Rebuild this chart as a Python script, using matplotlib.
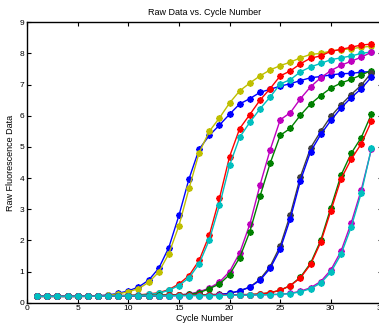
import matplotlib
matplotlib.use("Agg")
import matplotlib.pyplot as plt
import numpy as np

# cycle numbers
cycles = np.arange(1, 35)

# raw fluorescence, one list per well
blue_a = [0.2, 0.2, 0.2, 0.2, 0.2, 0.21, 0.22, 0.25, 0.3, 0.38, 0.5, 0.72, 1.1, 1.77, 2.8, 3.98, 4.93,
          5.37, 5.7, 6.05, 6.38, 6.55, 6.75, 6.85, 6.95, 7.03, 7.13, 7.22, 7.26, 7.31, 7.35, 7.36, 7.4, 7.42]
yellow_a = [0.2, 0.2, 0.2, 0.2, 0.2, 0.21, 0.22, 0.24, 0.28, 0.35, 0.45, 0.65, 0.98, 1.57, 2.47, 3.67, 4.82,
            5.5, 5.93, 6.41, 6.8, 7.05, 7.28, 7.47, 7.61, 7.72, 7.86, 7.97, 8.0, 8.08, 8.12, 8.15, 8.2, 8.23]
red_a = [0.2, 0.2, 0.2, 0.2, 0.2, 0.2, 0.21, 0.21, 0.22, 0.23, 0.25, 0.28, 0.32, 0.42, 0.6, 0.87, 1.36,
         2.17, 3.35, 4.69, 5.59, 6.04, 6.5, 6.87, 7.28, 7.44, 7.67, 7.85, 7.92, 8.07, 8.13, 8.2, 8.27, 8.3]
cyan_a = [0.2, 0.2, 0.2, 0.2, 0.2, 0.2, 0.21, 0.21, 0.22, 0.23, 0.24, 0.27, 0.3, 0.4, 0.55, 0.8, 1.25,
          2.02, 3.12, 4.41, 5.31, 5.79, 6.22, 6.6, 7.02, 7.16, 7.41, 7.57, 7.68, 7.8, 7.86, 7.92, 8.0, 8.05]
magenta_a = [0.21, 0.21, 0.21, 0.21, 0.21, 0.21, 0.21, 0.22, 0.22, 0.22, 0.22, 0.23, 0.23, 0.24, 0.25, 0.28, 0.35,
             0.47, 0.66, 1.0, 1.6, 2.52, 3.77, 4.9, 5.87, 6.1, 6.55, 6.93, 7.22, 7.45, 7.62, 7.75, 7.88, 8.04]
green_a = [0.21, 0.21, 0.21, 0.21, 0.21, 0.21, 0.21, 0.22, 0.22, 0.22, 0.22, 0.23, 0.23, 0.24, 0.25, 0.27, 0.32,
           0.45, 0.6, 0.9, 1.45, 2.28, 3.41, 4.47, 5.37, 5.6, 6.02, 6.38, 6.65, 6.89, 7.05, 7.17, 7.31, 7.45]
gray_b = [0.22, 0.22, 0.22, 0.22, 0.22, 0.22, 0.22, 0.22, 0.22, 0.22, 0.23, 0.23, 0.23, 0.23, 0.24, 0.24, 0.25,
          0.26, 0.27, 0.3, 0.38, 0.5, 0.75, 1.16, 1.82, 2.83, 4.05, 4.97, 5.5, 5.98, 6.35, 6.68, 6.98, 7.38]
blue_b = [0.21, 0.21, 0.21, 0.21, 0.21, 0.21, 0.21, 0.21, 0.22, 0.22, 0.22, 0.22, 0.23, 0.23, 0.23, 0.24, 0.24,
          0.25, 0.26, 0.3, 0.38, 0.5, 0.72, 1.1, 1.72, 2.7, 3.92, 4.85, 5.4, 5.85, 6.25, 6.58, 6.87, 7.24]
green_b = [0.22, 0.22, 0.22, 0.22, 0.22, 0.22, 0.22, 0.23, 0.23, 0.23, 0.23, 0.23, 0.24, 0.24, 0.24, 0.24, 0.25,
           0.25, 0.25, 0.25, 0.26, 0.26, 0.28, 0.32, 0.4, 0.55, 0.82, 1.27, 2.0, 3.05, 4.09, 4.79, 5.3, 6.05]
red_b = [0.22, 0.22, 0.22, 0.22, 0.22, 0.22, 0.22, 0.22, 0.23, 0.23, 0.23, 0.23, 0.23, 0.24, 0.24, 0.24, 0.24,
         0.25, 0.25, 0.25, 0.26, 0.26, 0.28, 0.32, 0.4, 0.55, 0.8, 1.23, 1.94, 2.95, 3.97, 4.6, 5.1, 5.82]
magenta_b = [0.21, 0.21, 0.21, 0.21, 0.21, 0.21, 0.21, 0.22, 0.22, 0.22, 0.22, 0.22, 0.22, 0.23, 0.23, 0.23, 0.23,
             0.23, 0.24, 0.24, 0.24, 0.25, 0.25, 0.26, 0.27, 0.3, 0.37, 0.48, 0.68, 1.05, 1.65, 2.55, 3.62, 4.92]
cyan_b = [0.21, 0.21, 0.21, 0.21, 0.21, 0.21, 0.21, 0.21, 0.22, 0.22, 0.22, 0.22, 0.22, 0.22, 0.23, 0.23, 0.23,
          0.23, 0.23, 0.24, 0.24, 0.24, 0.25, 0.26, 0.27, 0.29, 0.35, 0.45, 0.63, 0.98, 1.55, 2.42, 3.52, 4.95]

wells = [blue_a, yellow_a, red_a, cyan_a, magenta_a, green_a,
         gray_b, blue_b, green_b, red_b, magenta_b, cyan_b]
colors = [(0, 0, 1), (0.75, 0.75, 0), (1, 0, 0), (0, 0.75, 0.75), (0.75, 0, 0.75), (0, 0.5, 0),
          (0.25, 0.25, 0.25), (0, 0, 1), (0, 0.5, 0), (1, 0, 0), (0.75, 0, 0.75), (0, 0.75, 0.75)]

plt.rcParams['font.family'] = ['Liberation Sans', 'DejaVu Sans']

fig = plt.figure(figsize=(3.79, 3.25), dpi=100)
ax = fig.add_axes([27 / 379, 22.3 / 325, 354.5 / 379, 280.4 / 325])

for y, c in zip(wells, colors):
    ax.plot(cycles, y, color=c, linewidth=1.0, marker=(8, 2, 0), markersize=4.5,
            markeredgewidth=1.3, markeredgecolor=c, markerfacecolor=c)

#configure axes
ax.set_xlim(0, 35)
ax.set_ylim(0, 9)
ax.set_xticks(np.arange(0, 36, 5))
ax.set_yticks(np.arange(0, 10, 1))
ax.tick_params(direction='in', length=3, width=0.8, labelsize=6, pad=2,
               top=True, right=True)
for s in ax.spines.values():
    s.set_linewidth(1.0)

#labels
ax.set_xlabel("Cycle Number", fontsize=6.5, labelpad=1)
ax.set_ylabel("Raw Fluorescence Data", fontsize=6.5, labelpad=3)
ax.set_title("Raw Data vs. Cycle Number", fontsize=6.5, pad=5)

fig.savefig("out.png", dpi=100)
